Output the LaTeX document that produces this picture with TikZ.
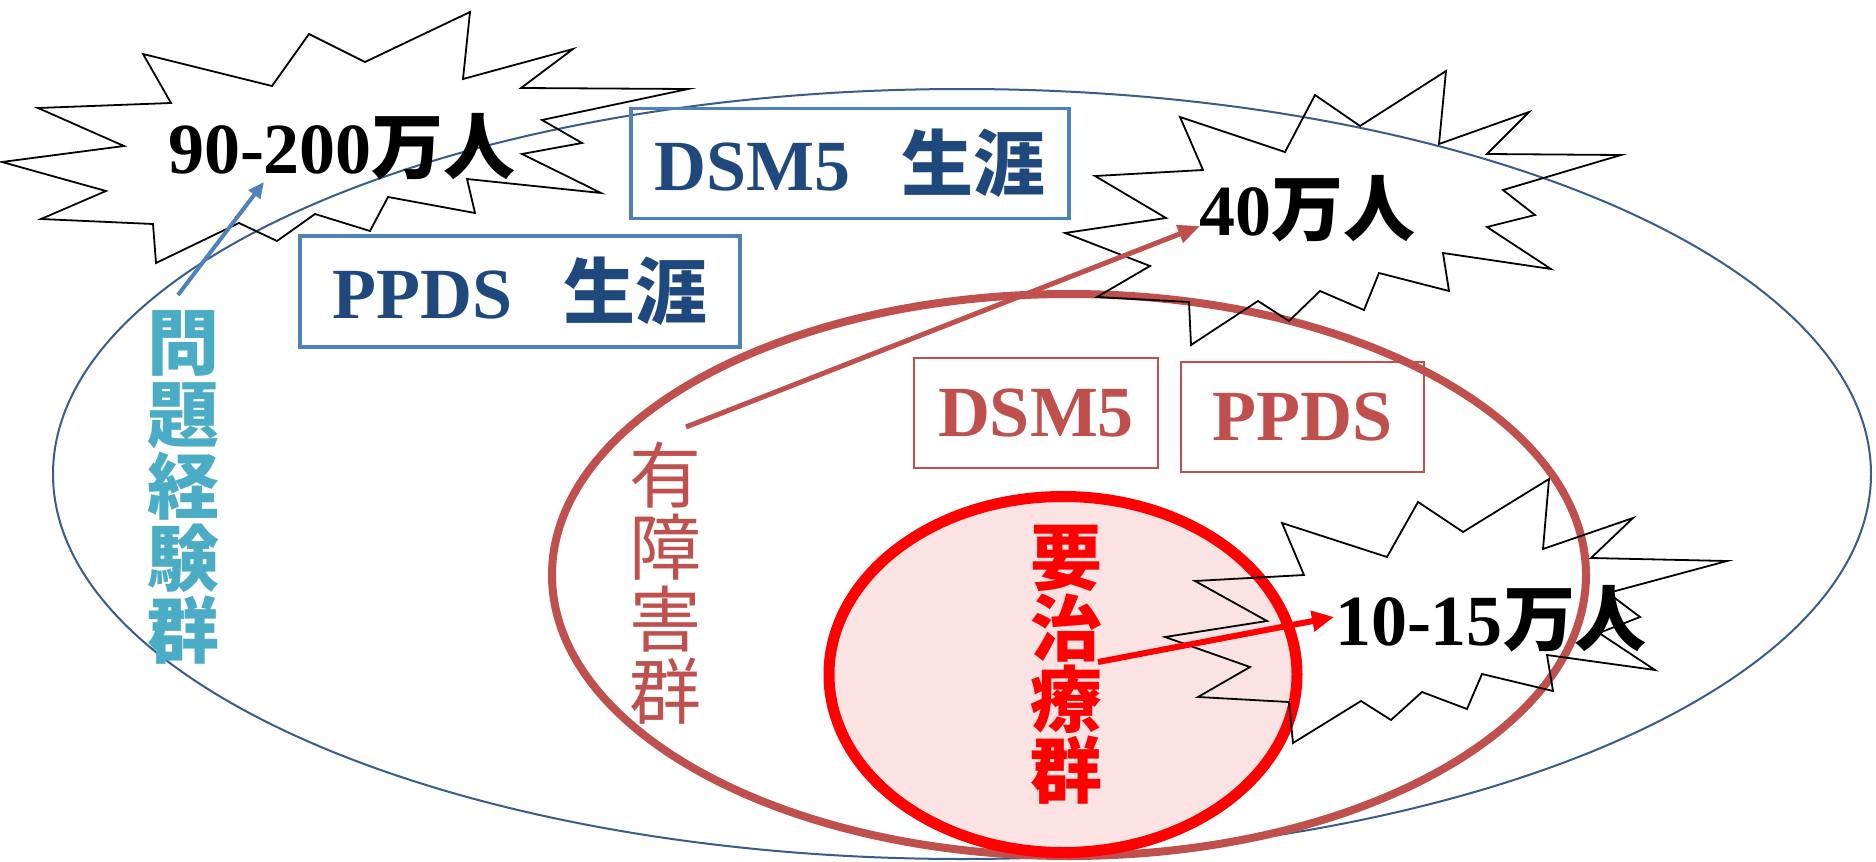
\documentclass[tikz,border=0pt]{standalone}
\usepackage{fontspec}
\setmainfont{Liberation Serif}
\newfontfamily\cjk{Noto Sans CJK JP}
\usetikzlibrary{arrows.meta}
\definecolor{boxblue}{HTML}{4F81BD}
\definecolor{textblue}{HTML}{1F497D}
\definecolor{outerblue}{HTML}{385D8A}
\definecolor{midred}{HTML}{C0504D}
\definecolor{cyantext}{HTML}{4BACC6}
\definecolor{purered}{HTML}{FF0000}
\definecolor{pinkfill}{HTML}{FBE3E3}
\tikzset{
  burst/.style={draw=black, line width=0.9pt, line join=miter},
  bursttext/.style={inner sep=0pt, anchor=base, font=\fontsize{36}{40}\selectfont\bfseries},
  bluebox/.style={draw=boxblue, line width=1.7pt, inner sep=0pt, text=textblue,
    font=\fontsize{36}{40}\selectfont\bfseries},
  redbox/.style={draw=midred, line width=1pt, inner sep=0pt, text=midred,
    font=\fontsize{36}{40}\selectfont\bfseries},
  vtext/.style={inner sep=0pt, align=center},
  bluearrow/.style={draw=boxblue, line width=2pt, -{Triangle[length=8pt,width=7pt]}},
  redarrow/.style={draw=midred, line width=2.5pt, -{Triangle[length=11pt,width=9pt]}},
  hotarrow/.style={draw=purered, line width=3pt, -{Triangle[length=11pt,width=10pt]}},
}
\begin{document}
\begin{tikzpicture}[x=0.5pt,y=-0.5pt]
\useasboundingbox (0,0) rectangle (1876,862);
\fill[white] (0,0) rectangle (1876,862);

% ellipses
\draw[outerblue, line width=1pt] (962,474) ellipse [x radius=909, y radius=385];
\draw[midred, line width=4pt] (1069,575) ellipse [x radius=517, y radius=281];
\draw[purered, line width=5.5pt, fill=pinkfill] (1063,674.5) ellipse [x radius=234, y radius=178];

% starbursts
\draw[burst] (2,162) -- (124,146) -- (38,108) -- (171,103) -- (143,54) -- (272,86) -- (309,34) -- (365,62) -- (470,12) -- (463,79) -- (573,49) -- (521,88) -- (688,89) -- (542,120) -- (582,143) -- (522,154) -- (601,193) -- (467,179) -- (475,213) -- (388,197) -- (370,231) -- (315,214) -- (277,241) -- (239,223) -- (156,263) -- (153,224) -- (41,219) -- (106,191) -- cycle;
\draw[burst] (1065,233) -- (1166,218) -- (1095,176) -- (1203,170) -- (1180,117) -- (1285,152) -- (1315,95) -- (1360,126) -- (1446,71) -- (1439,144) -- (1529,112) -- (1487,154) -- (1621,155) -- (1503,190) -- (1535,215) -- (1487,227) -- (1551,269) -- (1443,253) -- (1449,291) -- (1379,273) -- (1364,310) -- (1320,291) -- (1289,321) -- (1258,301) -- (1191,345) -- (1189,302) -- (1097,297) -- (1150,266) -- cycle;
\draw[burst] (1282,523) -- (1387,557) -- (1418,502) -- (1463,532) -- (1549,479) -- (1543,549) -- (1633,518) -- (1591,558) -- (1727,561) -- (1608,593) -- (1640,617) -- (1599,633) -- (1655,670) -- (1547,655) -- (1553,691) -- (1482,674) -- (1467,709) -- (1422,692) -- (1391,720) -- (1361,701) -- (1293,743) -- (1289,702) -- (1198,697) -- (1250,667) -- (1165,637) -- (1267,621) -- (1195,581) -- (1304,575) -- cycle;

% starburst texts
\node[bursttext] (n1) at (342,173) {90-200{\cjk\bfseries 万人}};
\node[bursttext] (n2) at (1307,235) {40{\cjk\bfseries 万人}};
\node[bursttext] (n3) at (1491,645) {10-15{\cjk\bfseries 万人}};

% boxes
\node[bluebox, minimum width=219pt, minimum height=55pt] (b1) at (850,163.5) {DSM5\hspace{0.72em}{\cjk\bfseries 生涯}};
\node[bluebox, minimum width=220pt, minimum height=55.5pt] (b2) at (520,291.5) {PPDS\hspace{0.72em}{\cjk\bfseries 生涯}};
\node[redbox, minimum width=122pt, minimum height=55pt] (r1) at (1036,413) {DSM5};
\node[redbox, minimum width=121.5pt, minimum height=55pt] (r2) at (1302.5,417) {PPDS};

% vertical labels
\node[vtext, text=cyantext, font=\cjk\bfseries\fontsize{36}{36}\selectfont] (v1) at (183,487.5) {問\\題\\経\\験\\群};
\node[vtext, text=midred, font=\cjk\fontsize{36}{36}\selectfont] (v2) at (665,583) {有\\障\\害\\群};
\node[vtext, text=purered, font=\cjk\bfseries\fontsize{36}{35.5}\selectfont] (v3) at (1066,664.5) {要\\治\\療\\群};

% arrows
\coordinate (a1s) at (178,295);
\coordinate (a1e) at (264,182);
\coordinate (a2s) at (686,427);
\coordinate (a2e) at (1200,226);
\coordinate (a3s) at (1098,662);
\coordinate (a3e) at (1334,617);
\draw[bluearrow] (a1s) -- (a1e);
\draw[redarrow] (a2s) -- (a2e);
\draw[hotarrow] (a3s) -- (a3e);
\end{tikzpicture}
\end{document}
